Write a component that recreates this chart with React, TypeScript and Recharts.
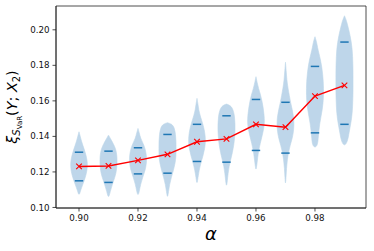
import { ComposedChart, Scatter, XAxis, YAxis, ReferenceArea } from 'recharts'

// quantile levels
const alphas = [0.9, 0.91, 0.92, 0.93, 0.94, 0.95, 0.96, 0.97, 0.98, 0.99]
const means = [0.1231, 0.1234, 0.1265, 0.1299, 0.137, 0.1386, 0.1468, 0.1452, 0.1627, 0.1687]
const lowerQuartiles = [0.115, 0.1141, 0.1189, 0.1193, 0.1259, 0.1255, 0.1321, 0.1306, 0.142, 0.1468]
const upperQuartiles = [0.1311, 0.1317, 0.1336, 0.1411, 0.1468, 0.1516, 0.1608, 0.1592, 0.1794, 0.1931]

// violin outlines, top to bottom: [value, share of the max half-width]
const v090 = [[0.1426, 0], [0.14, 0.15], [0.137, 0.3], [0.133, 0.6], [0.129, 0.85], [0.125, 1], [0.121, 0.95], [0.117, 0.75], [0.113, 0.45], [0.11, 0.2], [0.106, 0]]
const v091 = [[0.1407, 0], [0.139, 0.2], [0.136, 0.55], [0.133, 0.85], [0.129, 1], [0.125, 1], [0.121, 0.95], [0.117, 0.75], [0.113, 0.45], [0.109, 0.2], [0.1047, 0]]
const v092 = [[0.1445, 0], [0.142, 0.15], [0.139, 0.3], [0.136, 0.6], [0.133, 0.85], [0.129, 1], [0.125, 1], [0.121, 0.85], [0.117, 0.55], [0.113, 0.3], [0.109, 0.15], [0.1064, 0]]
const v093 = [[0.1477, 0], [0.147, 0.5], [0.145, 0.8], [0.141, 0.95], [0.137, 1], [0.133, 1], [0.129, 1], [0.125, 0.9], [0.121, 0.7], [0.117, 0.45], [0.113, 0.25], [0.109, 0.12], [0.1049, 0]]
const v094 = [[0.1614, 0], [0.158, 0.12], [0.155, 0.2], [0.152, 0.35], [0.149, 0.55], [0.145, 0.8], [0.141, 0.95], [0.137, 1], [0.133, 0.9], [0.129, 0.7], [0.125, 0.45], [0.121, 0.25], [0.117, 0.12], [0.1126, 0]]
const v095 = [[0.1582, 0], [0.1575, 0.45], [0.155, 0.8], [0.151, 0.95], [0.147, 1], [0.143, 1], [0.139, 0.95], [0.135, 0.85], [0.131, 0.7], [0.127, 0.5], [0.123, 0.3], [0.119, 0.18], [0.115, 0.1], [0.1113, 0]]
const v096 = [[0.1736, 0], [0.17, 0.15], [0.167, 0.3], [0.164, 0.5], [0.16, 0.7], [0.156, 0.85], [0.152, 0.95], [0.148, 1], [0.144, 0.9], [0.14, 0.7], [0.136, 0.5], [0.132, 0.3], [0.128, 0.2], [0.124, 0.1], [0.1204, 0]]
const v097 = [[0.1817, 0], [0.177, 0.08], [0.172, 0.15], [0.167, 0.3], [0.163, 0.45], [0.159, 0.6], [0.155, 0.8], [0.151, 0.95], [0.147, 1], [0.143, 0.95], [0.139, 0.8], [0.135, 0.55], [0.131, 0.35], [0.127, 0.22], [0.122, 0.12], [0.117, 0.06], [0.1122, 0]]
const v098 = [[0.1961, 0], [0.193, 0.2], [0.19, 0.3], [0.187, 0.45], [0.183, 0.65], [0.179, 0.8], [0.175, 0.9], [0.171, 0.97], [0.167, 1], [0.163, 1], [0.159, 0.95], [0.155, 0.85], [0.151, 0.7], [0.147, 0.55], [0.143, 0.45], [0.139, 0.38], [0.135, 0.3], [0.1336, 0]]
const v099 = [[0.2079, 0], [0.205, 0.25], [0.201, 0.45], [0.197, 0.65], [0.193, 0.8], [0.189, 0.9], [0.185, 0.95], [0.181, 0.98], [0.177, 1], [0.173, 1], [0.169, 1], [0.165, 1], [0.161, 0.98], [0.157, 0.95], [0.153, 0.9], [0.149, 0.8], [0.145, 0.65], [0.141, 0.5], [0.137, 0.35], [0.1344, 0]]
const outlines = [v090, v091, v092, v093, v094, v095, v096, v097, v098, v099]

const xTicks = [0.9, 0.92, 0.94, 0.96, 0.98]
const yTicks = [0.1, 0.12, 0.14, 0.16, 0.18, 0.2]

const X_DOMAIN = [0.8922, 0.9973]
const Y_DOMAIN = [0.0997, 0.2134]
const HALF = 0.0029 // max half-width of a violin, in alpha units
const VIOLIN = '#bed6ea'
const BLUE = '#1f77b4'
const AXIS = '#222'
const FONT = 'DejaVu Sans, sans-serif'

const toPolygon = (alpha: number, outline: number[][]) => {
  const right = outline.map(([y, w]) => ({ x: alpha + w * HALF, y }))
  const left = outline
    .slice(0, -1)
    .reverse()
    .map(([y, w]) => ({ x: alpha - w * HALF, y }))
  return [...right, ...left]
}

const quartilePoints = alphas.flatMap((a, i) => [
  { x: a, y: lowerQuartiles[i] },
  { x: a, y: upperQuartiles[i] },
])
const meanPoints = alphas.map((a, i) => ({ x: a, y: means[i] }))

const NoShape = () => <g />

const QuartileTick = (p: any) => (
  <line x1={p.cx - 4.2} x2={p.cx + 4.2} y1={p.cy} y2={p.cy} stroke={BLUE} strokeWidth={1.5} />
)

const XMarker = (p: any) => {
  const s = 2.8
  return (
    <path
      d={`M${p.cx - s},${p.cy - s}L${p.cx + s},${p.cy + s}M${p.cx - s},${p.cy + s}L${p.cx + s},${p.cy - s}`}
      stroke="red"
      strokeWidth={1.1}
      fill="none"
    />
  )
}

const XLabel = (props: any) => {
  const vb = props.viewBox
  return (
    <text x={vb.x + vb.width / 2} y={vb.y + 32} textAnchor="middle" fontFamily={FONT} fontStyle="italic" fontSize={18} fill="#000">
      α
    </text>
  )
}

const YLabel = (props: any) => {
  const vb = props.viewBox
  const cx = 17
  const cy = vb.y + vb.height / 2
  return (
    <text x={cx} y={cy} transform={`rotate(-90, ${cx}, ${cy})`} textAnchor="middle" fontFamily={FONT} fontSize={14.4} fill="#000">
      <tspan fontStyle="italic">ξ</tspan>
      <tspan fontStyle="italic" fontSize={10} dy={3}>S</tspan>
      <tspan fontSize={7} dy={1.5}>VaR</tspan>
      <tspan dy={-4.5}>(</tspan>
      <tspan fontStyle="italic">Y</tspan>
      <tspan>; </tspan>
      <tspan fontStyle="italic">X</tspan>
      <tspan fontSize={10} dy={3}>2</tspan>
      <tspan dy={-3}>)</tspan>
    </text>
  )
}

const tickStyle = { fontFamily: FONT, fontSize: 8.7, fill: '#111' }

export default function App() {
  return (
    <div style={{ position: 'absolute', left: 0, top: 0 }}>
      <ComposedChart width={374} height={251} margin={{ top: 6, right: 8, bottom: 0, left: 0 }}>
        <XAxis
          type="number"
          dataKey="x"
          domain={X_DOMAIN}
          allowDataOverflow
          ticks={xTicks}
          tickFormatter={(v: number) => v.toFixed(2)}
          height={43}
          tickSize={3.5}
          tickMargin={3.5}
          tick={tickStyle}
          axisLine={{ stroke: AXIS, strokeWidth: 0.8 }}
          tickLine={{ stroke: AXIS, strokeWidth: 0.8 }}
          label={XLabel}
        />
        <YAxis
          type="number"
          dataKey="y"
          domain={Y_DOMAIN}
          allowDataOverflow
          ticks={yTicks}
          tickFormatter={(v: number) => v.toFixed(2)}
          width={56}
          tickSize={3.5}
          tickMargin={3}
          tick={tickStyle}
          axisLine={{ stroke: AXIS, strokeWidth: 0.8 }}
          tickLine={{ stroke: AXIS, strokeWidth: 0.8 }}
          label={YLabel}
        />
        {outlines.map((o, i) => (
          <Scatter
            key={alphas[i]}
            data={toPolygon(alphas[i], o)}
            fill={VIOLIN}
            line={{ fill: VIOLIN, stroke: VIOLIN, strokeWidth: 0.6 }}
            lineJointType="basis"
            shape={NoShape}
            isAnimationActive={false}
          />
        ))}
        <Scatter data={quartilePoints} fill={BLUE} shape={QuartileTick} isAnimationActive={false} />
        <Scatter
          data={meanPoints}
          fill="red"
          line={{ stroke: 'red', strokeWidth: 1.5 }}
          lineJointType="linear"
          shape={XMarker}
          isAnimationActive={false}
        />
        <ReferenceArea
          x1={X_DOMAIN[0]}
          x2={X_DOMAIN[1]}
          y1={Y_DOMAIN[0]}
          y2={Y_DOMAIN[1]}
          fill="none"
          fillOpacity={0}
          stroke={AXIS}
          strokeWidth={0.8}
          ifOverflow="visible"
        />
      </ComposedChart>
    </div>
  )
}
